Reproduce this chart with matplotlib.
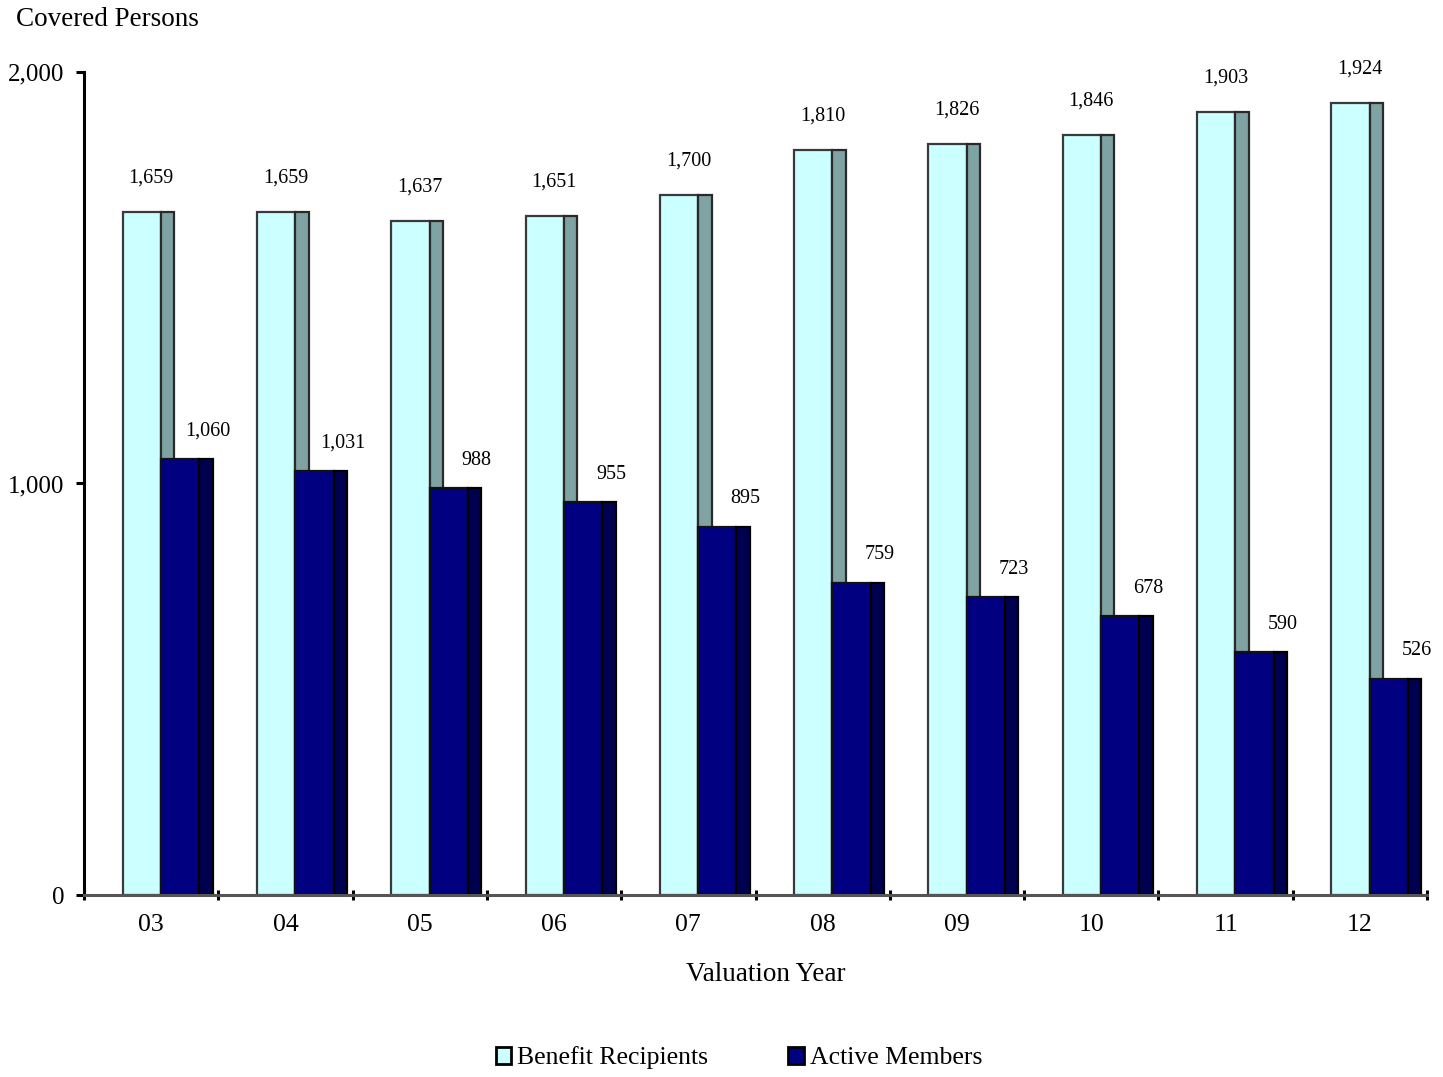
import matplotlib
matplotlib.use("Agg")
import matplotlib.pyplot as plt
from matplotlib.patches import Patch
import numpy as np

years = ["03", "04", "05", "06", "07", "08", "09", "10", "11", "12"]
benefit_recipients = [1659, 1659, 1637, 1651, 1700, 1810, 1826, 1846, 1903, 1924]
active_members = [1060, 1031, 988, 955, 895, 759, 723, 678, 590, 526]
yticks = [0, 1000, 2000]
ytick_labels = ["0", "1,000", "2,000"]

plt.rcParams['font.family'] = ['Liberation Serif', 'DejaVu Serif']

fig = plt.figure(figsize=(14.43, 10.77), dpi=100)
ax = fig.add_axes([84/1443, 1-895/1077, (1427-84)/1443, (895-72)/1077])

x = np.arange(len(years))
front_w = 0.285
side_w = 0.10
cyan_left = x - 0.212
navy_left = cyan_left + front_w

c_front, c_side = '#CCFFFF', '#7FA3A3'
n_front, n_side = '#000080', '#000050'

ax.bar(cyan_left, benefit_recipients, width=front_w, align='edge', color=c_front,
       edgecolor='#3a3a3a', linewidth=1.6, zorder=2)
ax.bar(cyan_left + front_w, benefit_recipients, width=side_w, align='edge', color=c_side,
       edgecolor='#2a2a2a', linewidth=1.6, zorder=2)
ax.bar(navy_left, active_members, width=front_w, align='edge', color=n_front,
       edgecolor='#111111', linewidth=1.6, zorder=3)
ax.bar(navy_left + front_w, active_members, width=side_w, align='edge', color=n_side,
       edgecolor='#000000', linewidth=1.6, zorder=3)

for xi, v in zip(x, benefit_recipients):
    ax.annotate(f"{v:,}", (xi, v), xytext=(0, 24.5), textcoords='offset points',
                ha='center', va='center', fontsize=14.5)
for xi, v in zip(x, active_members):
    ax.annotate(f"{v:,}", (xi + 0.425, v), xytext=(0, 20), textcoords='offset points',
                ha='center', va='center', fontsize=14.5)

ax.set_xlim(-0.5, len(years) - 0.5)
ax.set_ylim(0, 2000)
ax.set_yticks(yticks)
ax.set_yticklabels(ytick_labels, fontsize=18)
ax.set_xticks(x)
ax.set_xticklabels(years, fontsize=18.5)
ax.set_xticks(np.arange(-0.5, len(years)), minor=True)
ax.tick_params(axis='x', which='major', length=0, pad=14)
ax.tick_params(axis='x', which='minor', direction='inout', length=7, width=2.2, color='black')
ax.tick_params(axis='y', which='major', direction='out', length=6, width=2.2, pad=8)

for s in ['top', 'right']:
    ax.spines[s].set_visible(False)
ax.spines['left'].set_linewidth(2.2)
ax.spines['left'].set_color('black')
ax.spines['bottom'].set_linewidth(2.2)
ax.spines['bottom'].set_color('#555555')
ax.spines['bottom'].set_zorder(4)

ax.set_xlabel("Valuation Year", fontsize=19.5)
ax.xaxis.set_label_coords((766-84)/(1427-84), -(962-895)/(895-72))

fig.text(16/1443, 1-19/1077, "Covered Persons", fontsize=19.5, ha='left', va='center')

handles = [Patch(facecolor=c_front, edgecolor='black', linewidth=2.0, label='Benefit Recipients'),
           Patch(facecolor=n_front, edgecolor='black', linewidth=2.0, label='Active Members')]
fig.legend(handles=handles, loc='center', bbox_to_anchor=(739/1443, 1-1058/1077), ncol=2,
           frameon=False, fontsize=18.5, handlelength=0.6, handleheight=0.6, handletextpad=0.25,
           columnspacing=3.1)

fig.savefig("out.png", dpi=100)
